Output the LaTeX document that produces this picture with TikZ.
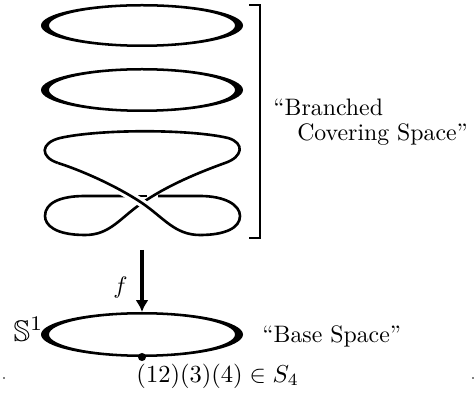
\documentclass[tikz,border=0pt]{standalone}
\usepackage{amssymb}
\usetikzlibrary{arrows.meta}

\tikzset{
    ring/.style={fill=black, even odd rule},
    strand/.style={line width=1.1pt, line join=round},
    bracket/.style={line width=0.45pt},
    mapto/.style={line width=1.4pt, -{Latex[length=5pt, width=5.5pt]}},
    lbl/.style={inner sep=0pt, anchor=base west},
    basedot/.style={circle, fill=black, inner sep=0pt, minimum size=3.4pt},
}

\begin{document}
\begin{tikzpicture}[x=0.42pt, y=-0.42pt]
    \useasboundingbox (0,0) rectangle (476,393);

    % COVERING SPACE: two plain sheets
    \fill[ring] (142,25.5) ellipse [x radius=101, y radius=21.5] (142,25.5) ellipse [x radius=93, y radius=19];
    \fill[ring] (142,90) ellipse [x radius=101, y radius=22] (142,90) ellipse [x radius=93, y radius=19.5];

    % Branched sheet (under strand and horizontal edge)
    \draw[strand] (58,163) .. controls (40,157) and (40,143) .. (60,138)
        .. controls (100,129) and (190,129) .. (228,138)
        .. controls (245,143) and (243,157) .. (225,163)
        .. controls (200,172) and (168,185) .. (142,203)
        .. controls (120,218) and (110,235) .. (85,235)
        .. controls (55,235) and (45,225) .. (45,216)
        .. controls (45,203) and (60,196) .. (85,196)
        -- (125,196);
    \draw[strand] (137,196) -- (147,196);
    \draw[strand] (158,196) -- (200,196)
        .. controls (225,196) and (240,205) .. (240,216)
        .. controls (240,228) and (225,235) .. (200,235);
    % over strand
    \draw[strand, preaction={draw, white, line width=3.6pt}] (200,235)
        .. controls (175,235) and (164,218) .. (142,203)
        .. controls (115,185) and (80,170) .. (58,163);

    % Bracket
    \draw[bracket] (249,5) -- (260,5) -- (260,238) -- (249,238);
    \node[lbl, align=left] (cover-lbl) at (273,141) {“Branched\\[-1.5pt]\hspace*{10pt}Covering Space”};

    % Projection
    \coordinate (cover) at (142,250);
    \coordinate (basetop) at (142,312);
    \draw[mapto] (cover) -- (basetop) node[pos=0.6, left=2pt] (f-lbl) {$f$};

    % BASE SPACE
    \fill[ring] (142,334.5) ellipse [x radius=101, y radius=22.5] (142,334.5) ellipse [x radius=93, y radius=20];
    \node[basedot] (pt) at (142,357) {};
    \node[lbl, scale=1.25] (s-lbl) at (13,341) {$\mathbb{S}^1$};
    \node[lbl] (base-lbl) at (262,342) {“Base Space”};
    \node[lbl, scale=1.03] (perm-lbl) at (136,382) {$(12)(3)(4)\in S_4$};

    % corner marks
    \fill (4,378) circle [radius=0.9];
    \fill (473,378) circle [radius=0.9];
\end{tikzpicture}
\end{document}
